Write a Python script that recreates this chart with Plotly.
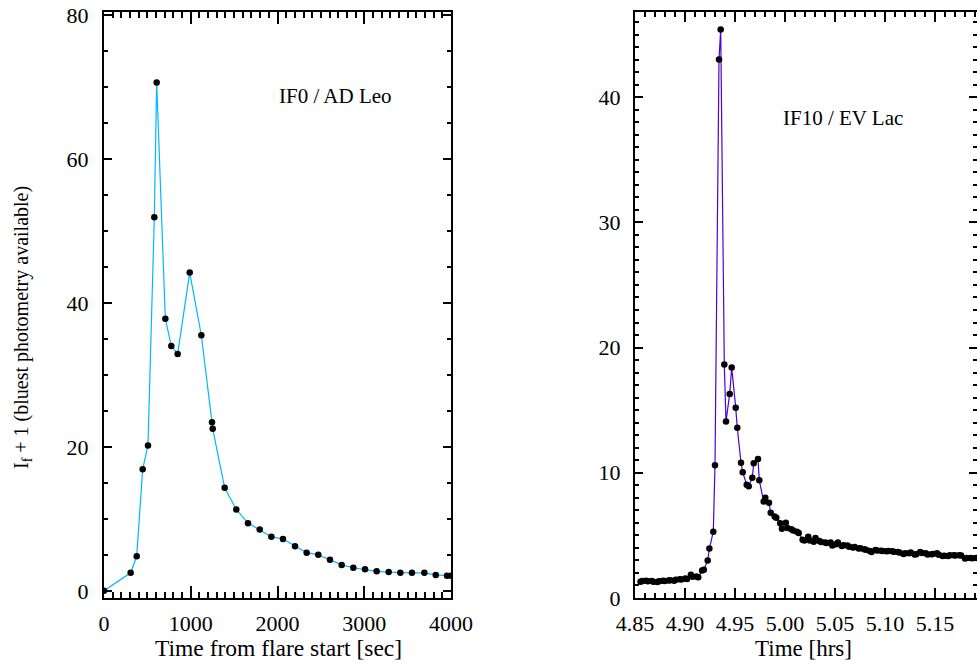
import plotly.graph_objects as go

# ---------------- data: left panel (IF0 / AD Leo) ----------------
adleo_t = [0, 307, 377, 446, 507, 580, 607, 707, 776, 849, 988, 1122, 1245, 1253,
           1391, 1525, 1660, 1795, 1929, 2063, 2202, 2336, 2470, 2605, 2740, 2874,
           3009, 3143, 3282, 3416, 3550, 3693, 3824, 3954, 4000]
adleo_i = [0.0, 2.5, 4.8, 16.9, 20.2, 51.9, 70.6, 37.8, 34.0, 32.9, 44.2, 35.5, 23.4, 22.5,
           14.3, 11.3, 9.4, 8.5, 7.5, 7.2, 6.2, 5.3, 5.0, 4.3, 3.6, 3.2,
           3.0, 2.7, 2.6, 2.5, 2.5, 2.5, 2.2, 2.1, 2.1]

# ---------------- data: right panel (IF10 / EV Lac) ----------------
evlac_t = [4.8555, 4.8572, 4.8611, 4.8628, 4.8667, 4.8684, 4.8723, 4.8740, 4.8779, 4.8796,
           4.8835, 4.8852, 4.8891, 4.8908, 4.8947, 4.8964, 4.9003, 4.9020, 4.9059, 4.9076,
           4.9115, 4.9132, 4.9171, 4.9188, 4.9227, 4.9244, 4.9283, 4.9300, 4.9340, 4.9357,
           4.9393, 4.9410, 4.9447, 4.9467, 4.9507, 4.9523, 4.9560, 4.9577, 4.9617, 4.9637,
           4.9673, 4.9687, 4.9730, 4.9743, 4.9787, 4.9803, 4.9840, 4.9857, 4.9896, 4.9913,
           4.9952, 4.9969, 5.0008, 5.0025, 5.0064, 5.0081, 5.0120, 5.0137, 5.0176, 5.0193,
           5.0232, 5.0249, 5.0288, 5.0305, 5.0344, 5.0361, 5.0400, 5.0417, 5.0456, 5.0473,
           5.0512, 5.0529, 5.0568, 5.0585, 5.0624, 5.0641, 5.0680, 5.0697, 5.0736, 5.0753,
           5.0792, 5.0809, 5.0848, 5.0865, 5.0904, 5.0921, 5.0960, 5.0977, 5.1016, 5.1033,
           5.1072, 5.1089, 5.1128, 5.1145, 5.1184, 5.1201, 5.1240, 5.1257, 5.1296, 5.1313,
           5.1352, 5.1369, 5.1408, 5.1425, 5.1464, 5.1481, 5.1520, 5.1537, 5.1576, 5.1593,
           5.1632, 5.1649, 5.1688, 5.1705, 5.1744, 5.1761, 5.1800, 5.1817, 5.1856, 5.1873,
           5.1912]
evlac_i = [1.30, 1.35, 1.38, 1.33, 1.35, 1.30, 1.28, 1.33, 1.38, 1.35,
           1.40, 1.42, 1.38, 1.45, 1.50, 1.48, 1.55, 1.52, 1.85, 1.70,
           1.72, 1.65, 2.20, 2.25, 3.00, 3.95, 5.30, 10.6, 43.0, 45.4,
           18.65, 14.1, 16.3, 18.4, 15.2, 13.6, 10.8, 10.05, 9.05, 8.93,
           9.6, 10.76, 11.1, 9.4, 7.7, 8.0, 7.6, 6.8, 6.5, 6.4,
           5.96, 5.54, 6.0, 5.6, 5.5, 5.4, 5.3, 5.2, 4.65, 4.6,
           4.9, 4.6, 4.5, 4.8, 4.55, 4.47, 4.43, 4.40, 4.43, 4.2,
           4.3, 4.43, 4.16, 4.22, 4.2, 4.1, 4.03, 4.08, 3.95, 3.98,
           3.9, 3.85, 3.76, 3.68, 3.84, 3.79, 3.77, 3.76, 3.73, 3.75,
           3.73, 3.70, 3.68, 3.63, 3.52, 3.57, 3.57, 3.63, 3.47, 3.50,
           3.68, 3.60, 3.57, 3.47, 3.50, 3.52, 3.57, 3.45, 3.36, 3.38,
           3.36, 3.42, 3.42, 3.40, 3.42, 3.40, 3.15, 3.20, 3.20, 3.18,
           3.20]

left_xticks = [0, 1000, 2000, 3000, 4000]
left_yticks = [0, 20, 40, 60, 80]
right_xticks = [4.85, 4.90, 4.95, 5.00, 5.05, 5.10, 5.15]
right_yticks = [0, 10, 20, 30, 40]

FONT = "Liberation Serif"
W, H = 977, 668

fig = go.Figure()
fig.add_trace(go.Scatter(x=adleo_t, y=adleo_i, mode="lines+markers",
                         line=dict(color="#00b8ff", width=1.2),
                         marker=dict(color="black", size=6.5),
                         xaxis="x", yaxis="y", showlegend=False))
fig.add_trace(go.Scatter(x=evlac_t, y=evlac_i, mode="lines+markers",
                         line=dict(color="#5000d2", width=1.2),
                         marker=dict(color="black", size=6.5),
                         xaxis="x2", yaxis="y2", showlegend=False))

def ax(**kw):
    base = dict(showline=True, linecolor="black", linewidth=2, mirror="allticks",
                ticks="inside", tickcolor="black", tickwidth=1.5,
                showgrid=False, zeroline=False, automargin=False,
                tickfont=dict(family=FONT, size=22, color="black"))
    base.update(kw)
    return base

ydom = [1 - 598 / H, 1 - 12 / H]
fig.update_layout(
    width=W, height=H, autosize=False,
    margin=dict(l=0, r=0, t=0, b=0, pad=0, autoexpand=False),
    paper_bgcolor="white", plot_bgcolor="white", showlegend=False,
    xaxis=ax(domain=[104 / W, 451 / W], range=[0, 4000], tickvals=left_xticks,
             ticklen=12, ticklabelstandoff=5,
             minor=dict(dtick=100, tick0=0, ticklen=6, ticks="inside", tickcolor="black", tickwidth=1.5),
             anchor="y"),
    yaxis=ax(domain=ydom, range=[-1, 80.4], tickvals=left_yticks,
             ticklen=8, ticklabelstandoff=9,
             minor=dict(dtick=5, tick0=0, ticklen=4, ticks="inside", tickcolor="black", tickwidth=1.5),
             anchor="x"),
    xaxis2=ax(domain=[635 / W, 1.0], range=[4.85, 5.192], tickvals=right_xticks,
              tickformat=".2f", ticklen=10, ticklabelstandoff=5,
              minor=dict(dtick=0.01, tick0=4.85, ticklen=5, ticks="inside", tickcolor="black", tickwidth=1.5),
              anchor="y2"),
    yaxis2=ax(domain=ydom, range=[0, 46.8], tickvals=right_yticks,
              ticklen=8, ticklabelstandoff=8,
              minor=dict(dtick=1, tick0=0, ticklen=4, ticks="inside", tickcolor="black", tickwidth=1.5),
              anchor="x2"),
    annotations=[
        dict(text="IF0 / AD Leo", x=2663, y=68.75, xref="x", yref="y", showarrow=False,
             xanchor="center", yanchor="middle",
             font=dict(family=FONT, size=21, color="black")),
        dict(text="IF10 / EV Lac", x=5.058, y=38.3, xref="x2", yref="y2", showarrow=False,
             xanchor="center", yanchor="middle",
             font=dict(family=FONT, size=21, color="black")),
        dict(text="Time from flare start [sec]", x=278 / W, y=1 - 648 / H, xref="paper", yref="paper",
             xanchor="center", yanchor="middle",
             showarrow=False, font=dict(family=FONT, size=23.5, color="black")),
        dict(text="Time [hrs]", x=803 / W, y=1 - 648 / H, xref="paper", yref="paper",
             xanchor="center", yanchor="middle",
             showarrow=False, font=dict(family=FONT, size=23, color="black")),
        dict(text="I<sub>f</sub> + 1 (bluest photometry available)", x=22 / W, y=1 - 328 / H,
             xref="paper", yref="paper", textangle=-90, showarrow=False,
             xanchor="center", yanchor="middle",
             font=dict(family=FONT, size=20, color="black")),
    ],
)

fig.write_html("out.html")
